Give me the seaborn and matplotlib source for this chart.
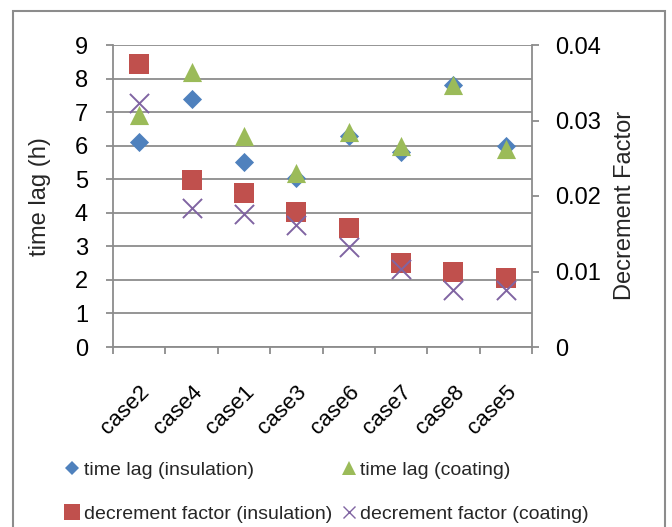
import matplotlib
matplotlib.use("Agg")
import matplotlib.pyplot as plt
import matplotlib.transforms as mtransforms
from matplotlib.lines import Line2D
from matplotlib.patches import Rectangle
from matplotlib import font_manager
import seaborn as sns
import pandas as pd

# ---- data ----
cases = ["case2", "case4", "case1", "case3", "case6", "case7", "case8", "case5"]
time_lag_insulation = [6.1, 7.4, 5.5, 5.05, 6.3, 5.8, 7.8, 6.0]
time_lag_coating = [6.9, 8.2, 6.3, 5.2, 6.4, 6.0, 7.8, 5.9]
decrement_insulation = [0.0375, 0.0221, 0.0204, 0.0179, 0.0157, 0.0111, 0.0100, 0.0091]
decrement_coating = [0.0323, 0.0184, 0.0176, 0.0161, 0.0133, 0.0103, 0.0076, 0.0076]
left_ticks = [0, 1, 2, 3, 4, 5, 6, 7, 8, 9]
right_ticks = [0, 0.01, 0.02, 0.03, 0.04]
right_tick_labels = ["0", "0.01", "0.02", "0.03", "0.04"]
labels = ["time lag (insulation)", "time lag (coating)",
          "decrement factor (insulation)", "decrement factor (coating)"]

df = pd.DataFrame({
    "case": cases,
    "tl_ins": time_lag_insulation,
    "tl_coat": time_lag_coating,
    "df_ins": decrement_insulation,
    "df_coat": decrement_coating,
})

BLUE, RED, GREEN, PURPLE = "#4F81BD", "#C0504D", "#9BBB59", "#8064A2"
GRAY = "#8C8C8C"

sns.set_theme(style="white")
names = {f.name for f in font_manager.fontManager.ttflist}
MAIN = "Liberation Sans" if "Liberation Sans" in names else "DejaVu Sans"
plt.rcParams["font.family"] = [MAIN, "DejaVu Sans"]

W, H = 672, 527
fig = plt.figure(figsize=(W / 100, H / 100), dpi=100)
fig.patch.set_facecolor("white")

x0, x1, ytop, ybot = 113, 532, 45, 347
ax = fig.add_axes([x0 / W, 1 - ybot / H, (x1 - x0) / W, (ybot - ytop) / H])
ax2 = ax.twinx()

# primary axis series
sns.scatterplot(data=df, x="case", y="tl_ins", ax=ax, marker="D", s=95,
                color=BLUE, linewidth=0, zorder=3)
sns.scatterplot(data=df, x="case", y="tl_coat", ax=ax, marker="^", s=190,
                color=GREEN, linewidth=0, zorder=4)
# secondary axis series
sns.scatterplot(data=df, x="case", y="df_ins", ax=ax2, marker="s", s=200,
                color=RED, linewidth=0, zorder=3)
sns.scatterplot(data=df, x="case", y="df_coat", ax=ax2, marker="x", s=190,
                color=PURPLE, linewidth=1.4, zorder=4)

ax.set_xlim(-0.5, len(cases) - 0.5)
ax.set_ylim(0, 9)
ax2.set_ylim(0, 0.04)

ax.set_yticks(left_ticks)
ax.set_yticklabels([str(t) for t in left_ticks])
ax2.set_yticks(right_ticks)
ax2.set_yticklabels(right_tick_labels)

ax.set_xticks(range(len(cases)))
ax.set_xticks([i - 0.5 for i in range(len(cases) + 1)], minor=True)
ax.set_xticklabels(cases, rotation=45, ha="right", rotation_mode="anchor")
offset = mtransforms.ScaledTranslation(5 / 100, 0, fig.dpi_scale_trans)
for lab in ax.get_xticklabels():
    lab.set_transform(lab.get_transform() + offset)

ax.grid(axis="y", color=GRAY, linewidth=1.3)
ax.set_axisbelow(True)
for a in (ax, ax2):
    for s in a.spines.values():
        s.set_visible(False)
ax.spines["left"].set_visible(True)
ax.spines["bottom"].set_visible(True)
ax2.spines["right"].set_visible(True)
for s in (ax.spines["left"], ax.spines["bottom"], ax2.spines["right"]):
    s.set_color(GRAY)
    s.set_linewidth(1.3)

FS = 17
ax.tick_params(axis="y", which="major", left=True, length=5, width=1.3,
               color=GRAY, pad=13, labelsize=FS, labelcolor="black")
ax.tick_params(axis="x", which="major", bottom=False, length=0, pad=25,
               labelsize=16, labelcolor="black")
ax.tick_params(axis="x", which="minor", bottom=True, length=5, width=1.3,
               color=GRAY)
ax2.tick_params(axis="y", which="major", right=True, length=5, width=1.3,
                color=GRAY, pad=12, labelsize=FS, labelcolor="black")

ax.set_xlabel("")
ax.set_ylabel("time lag (h)", fontsize=FS, va="center")
ax.yaxis.set_label_coords((40 - x0) / (x1 - x0), (ybot - 197) / (ybot - ytop))
ax2.set_ylabel("Decrement Factor", fontsize=FS, va="center", rotation=90)
ax2.yaxis.set_label_coords((625 - x0) / (x1 - x0), (ybot - 205) / (ybot - ytop))

# legend
handles = [
    Line2D([], [], marker="D", color=BLUE, linestyle="none", markersize=7, markeredgewidth=0),
    Line2D([], [], marker="s", color=RED, linestyle="none", markersize=11, markeredgewidth=0),
    Line2D([], [], marker="^", color=GREEN, linestyle="none", markersize=10, markeredgewidth=0),
    Line2D([], [], marker="x", color=PURPLE, linestyle="none", markersize=9, markeredgewidth=1.0),
]
leg_labels = [labels[0], labels[2], labels[1], labels[3]]
fig.legend(handles, leg_labels, loc="upper left", bbox_to_anchor=(48 / W, 1 - 444 / H),
           ncol=2, frameon=False, handlelength=0.7, handletextpad=0.25,
           columnspacing=0.5, labelspacing=1.35,
           prop={"family": [MAIN, "DejaVu Sans"], "size": 14})

# outer chart frame
fig.patches.append(Rectangle((13 / W, -0.05), (665 - 13) / W, 1.05 - 11 / H,
                             transform=fig.transFigure, fill=False,
                             edgecolor=GRAY, linewidth=1.5, zorder=0))

fig.savefig("out.png", dpi=100, facecolor="white")
